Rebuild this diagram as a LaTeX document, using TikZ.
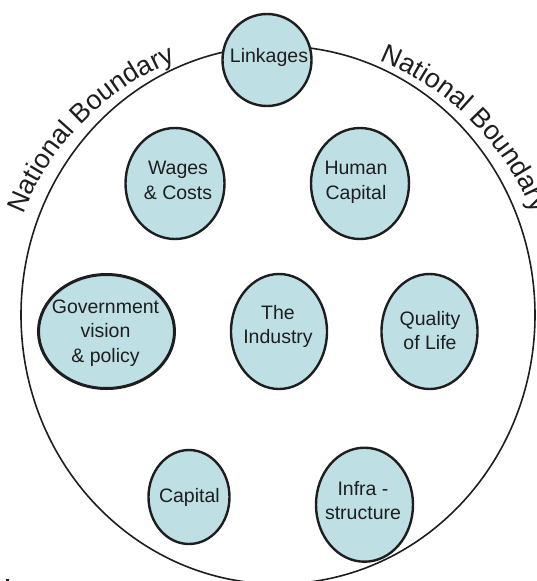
\documentclass[tikz,border=0pt]{standalone}
\usepackage{fontspec}
\setmainfont{Liberation Sans}
\usetikzlibrary{shapes.geometric,decorations.text}
\definecolor{bubblefill}{RGB}{190,224,228}
\definecolor{inkline}{RGB}{30,30,30}
\begin{document}
\begin{tikzpicture}[x=1pt,y=-1pt,
  bub/.style={ellipse, draw=inkline, fill=bubblefill, line width=2.4pt, inner sep=0pt},
  lbl/.style={anchor=north, inner sep=0pt, align=center, text=inkline,
              font=\fontsize{19.5}{24.5}\selectfont},
  boundary/.style={ellipse, draw=inkline, line width=1.6pt, inner sep=0pt},
  bndtext/.style={decorate, decoration={text along path, text align=center,
              text={|\fontsize{27}{27}\selectfont\color{inkline}|National Boundary}}}]
\useasboundingbox (0,0) rectangle (536,581);

% national boundary
\node[boundary, minimum width=514pt, minimum height=538pt] (nation) at (278,315) {};
\path[bndtext] (278,315) ++(159.8:274pt) arc[start angle=159.8, end angle=110.6, radius=274pt];
\path[bndtext] (278,315) ++(69.6:274pt) arc[start angle=69.6, end angle=20.4, radius=274pt];

% bubbles
\node[bub, minimum width=89pt, minimum height=92pt] (link) at (267,60) {};
\node[bub, minimum width=99pt, minimum height=111pt] (wages) at (175,183.5) {};
\node[bub, minimum width=98pt, minimum height=111pt] (human) at (360,183.5) {};
\node[bub, line width=3pt, minimum width=136pt, minimum height=114pt] (gov) at (106.5,331.5) {};
\node[bub, minimum width=96pt, minimum height=115pt] (ind) at (279,331.5) {};
\node[bub, minimum width=96pt, minimum height=115pt] (qol) at (429.5,331.5) {};
\node[bub, minimum width=81pt, minimum height=94pt] (cap) at (189,497) {};
\node[bub, minimum width=97pt, minimum height=114pt] (infra) at (364.5,504.7) {};

% labels
\node[lbl] (link-t) at (269,48) {Linkages};
\node[lbl] (wages-t) at (178,161) {Wages\\\& Costs};
\node[lbl] (human-t) at (356,161) {Human\\Capital};
\node[lbl] (gov-t) at (105.5,299.3) {Government\\vision\\\& policy};
\node[lbl] (ind-t) at (278,305) {The\\Industry};
\node[lbl] (qol-t) at (430,311) {Quality\\of Life};
\node[lbl] (cap-t) at (189.4,487.7) {Capital};
\node[lbl] (infra-t) at (363,481) {Infra -\\structure};

% small mark at bottom left
\fill[inkline] (6,579) rectangle (8.5,581.5);
\end{tikzpicture}
\end{document}
